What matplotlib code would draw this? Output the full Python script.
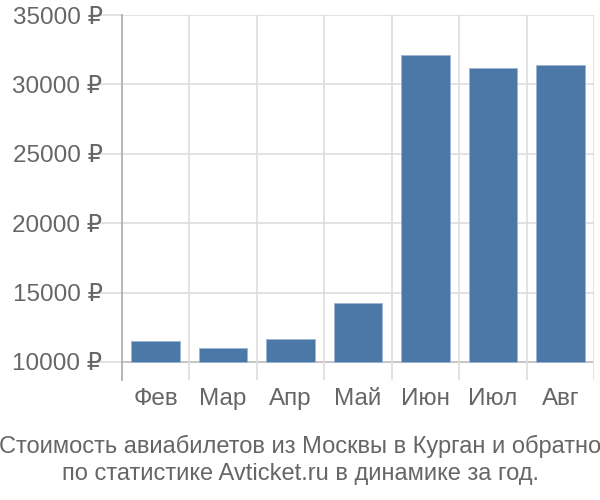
import matplotlib.pyplot as plt

plt.switch_backend('Agg')
plt.rcParams['font.family'] = ['Liberation Sans', 'DejaVu Sans']

# Data
months = ['Фев', 'Мар', 'Апр', 'Май', 'Июн', 'Июл', 'Авг']
prices = [11500, 11000, 11650, 14250, 32150, 31200, 31400]
yticks = [10000, 15000, 20000, 25000, 30000, 35000]
base = 10000

text_color = '#666666'
grid_color = '#dddddd'

fig = plt.figure(figsize=(6, 5), dpi=100)
ax = fig.add_axes([0.2033, 0.24, 0.787, 0.73])

x = list(range(len(months)))
heights = [p - base for p in prices]
ax.bar(x, heights, bottom=base, width=0.72, color='#4c78a8',
       edgecolor='#9db5d3', linewidth=0.6, zorder=3)

ax.set_xlim(-0.5, len(months) - 0.5)
ax.set_ylim(8700, 35000)

# horizontal grid and category separators
ax.set_yticks(yticks)
ax.set_yticklabels([f'{v} ₽' for v in yticks])
for v in yticks:
    c = '#bbbbbb' if v == base else grid_color
    ax.axhline(v, color=c, lw=1.2, zorder=1)
for b in range(1, len(months) + 1):
    ax.axvline(b - 0.5, color=grid_color, lw=1.2, zorder=1)

ax.set_xticks(x)
ax.set_xticklabels(months)
ax.tick_params(axis='y', length=22, color=grid_color, width=1.2,
               labelsize=17.5, labelcolor=text_color, pad=-8)
ax.tick_params(axis='x', length=0, labelsize=17.5, labelcolor=text_color, pad=6)

for s in ['top', 'right', 'bottom']:
    ax.spines[s].set_visible(False)
ax.spines['left'].set_color('#aaaaaa')
ax.spines['left'].set_linewidth(1.2)

fig.text(0.5, 0.081, 'Стоимость авиабилетов из Москвы в Курган и обратно\n'
         'по статистике Avticket.ru в динамике за год.',
         ha='center', va='center', fontsize=17, color=text_color,
         linespacing=1.3)

fig.savefig('out.png', dpi=100)
plt.close(fig)
